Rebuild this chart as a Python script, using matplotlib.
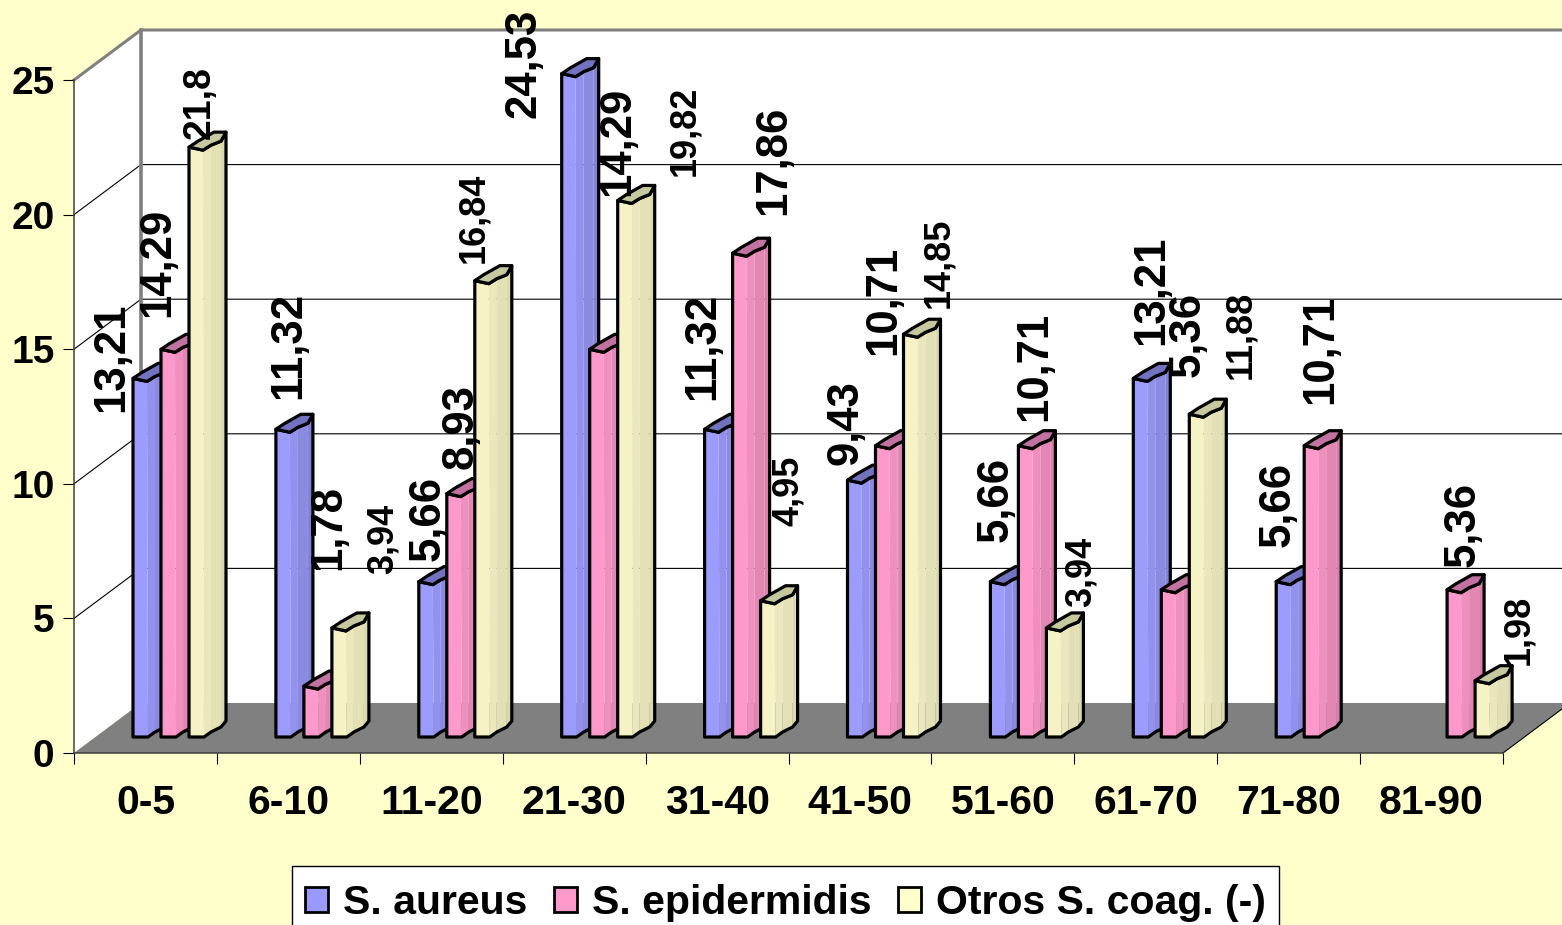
import matplotlib
matplotlib.use("Agg")
import matplotlib.pyplot as plt
from matplotlib.patches import Polygon, Patch, Rectangle

categories = ["0-5", "6-10", "11-20", "21-30", "31-40", "41-50", "51-60", "61-70", "71-80", "81-90"]
series_names = ["S. aureus", "S. epidermidis", "Otros S. coag. (-)"]
aureus = [13.21, 11.32, 5.66, 24.53, 11.32, 9.43, 5.66, 13.21, 5.66, None]
epidermidis = [14.29, 1.78, 8.93, 14.29, 17.86, 10.71, 10.71, 5.36, 10.71, 5.36]
otros = [21.8, 3.94, 16.84, 19.82, 4.95, 14.85, 3.94, 11.88, None, 1.98]
y_ticks = [0, 5, 10, 15, 20, 25]

# label offsets (pixels) from each bar's top-left corner
aureus_off = [(-21, 24), (13, 87), (9, 66), (-38, 13), (-2, 86), (-2, 61), (6, 85), (18, 91), (2, 80), None]
epid_off = [(-3, 90), (25, 162), (14, 70), (28, 211), (41, 96), (8, 148), (16, 82), (27, 258), (17, 99), (16, 68)]
otros_off = [(11, 48), (51, 92), (-1, 66), (67, 73), (28, 113), (35, 74), (35, 59), (51, 82), None, (44, 54)]

W, H = 1562, 925
BG = "#FFFFCC"
LEFT, RIGHT, TOP, BOTTOM = 74, 1503, 80, 753
DX, DY = 67, 50          # depth of the chart box, pixels
BAR_DX, BAR_DY = 59, 16  # front of bars relative to the origin
BAR_STEP = 28

facet_colors = [
    ["#9C9CFF", "#9292EE", "#8A8AE0", "#8282D6"],
    ["#FF99CC", "#EE8FBE", "#E286B4", "#D87FAA"],
    ["#F5F2C6", "#EAE7BC", "#E2E0B4", "#DADAAE"],
]
cap_colors = ["#7272C0", "#C272A0", "#C8C8A0"]
legend_colors = ["#9999FF", "#FF99CC", "#FFFFCC"]

plt.rcParams["font.family"] = ["Liberation Sans", "DejaVu Sans"]
fig = plt.figure(figsize=(W / 100, H / 100), dpi=100, facecolor=BG)
ax = fig.add_axes([LEFT / W, 1 - BOTTOM / H, (RIGHT - LEFT) / W, (BOTTOM - TOP) / H])
ax.set_xlim(0, len(categories))
ax.set_ylim(0, 25)
ax.patch.set_visible(False)
ppx = (RIGHT - LEFT) / len(categories)
ppy = (BOTTOM - TOP) / 25.0
ux, uy = 1 / ppx, 1 / ppy
n = len(categories)
ddx, ddy = DX * ux, DY * uy

# walls
ax.add_patch(Polygon([(ddx, ddy), (n + ddx, ddy), (n + ddx, 25 + ddy), (ddx, 25 + ddy)], fc="white", ec="none", clip_on=False, zorder=0))
ax.add_patch(Polygon([(0, 0), (ddx, ddy), (ddx, 25 + ddy), (0, 25)], fc="white", ec="none", clip_on=False, zorder=0))
ax.add_patch(Polygon([(0, 0), (n, 0), (n + ddx, ddy), (ddx, ddy)], fc="#808080", ec="none", clip_on=False, zorder=1))

for t in y_ticks[1:-1]:
    ax.plot([0, ddx, n + ddx], [t, t + ddy, t + ddy], color="black", lw=0.8, clip_on=False, zorder=1)
ax.plot([0, ddx, n + ddx], [25, 25 + ddy, 25 + ddy], color="#808080", lw=2.2, clip_on=False, zorder=1)
ax.plot([ddx, ddx], [ddy, 25 + ddy], color="#808080", lw=2.6, clip_on=False, zorder=1)
ax.plot([n, n + ddx], [0, ddy], color="black", lw=0.8, clip_on=False, zorder=1)

# axis
for s in ["top", "right"]:
    ax.spines[s].set_visible(False)
for s in ["left", "bottom"]:
    ax.spines[s].set_color("#404040")
    ax.spines[s].set_linewidth(1.1)
    ax.spines[s].set_zorder(2)
ax.set_yticks(y_ticks)
ax.set_yticklabels([str(t) for t in y_ticks], fontsize=28, fontweight="bold")
ax.tick_params(axis="y", length=8, width=0.8, pad=6)
ax.set_xticks(range(n + 1))
ax.set_xticklabels([])
ax.set_xticks([i + 0.5 for i in range(n)], minor=True)
ax.set_xticklabels(categories, minor=True, fontsize=29.5, fontweight="bold")
ax.tick_params(axis="x", which="major", length=8, width=0.8)
ax.tick_params(axis="x", which="minor", length=0, pad=22.5)

# bar cross-section, pixels
profile = [(0, 0), (15, 0), (22, -5), (32, -10), (37, -16)]
back_cap = [(25, -18), (9, -9)]
cap_front = [(0, -3), (14, 0), (22, -5), (32, -9), (37, -18)]


def draw_bar(g, s, v, z):
    x0 = g + (BAR_DX + s * BAR_STEP) * ux
    y0 = BAR_DY * uy
    def P(off, h=0.0):
        return (x0 + off[0] * ux, y0 + h - off[1] * uy)
    for i in range(4):
        poly = [P(profile[i]), P(profile[i + 1]), P(cap_front[i + 1], v), P(cap_front[i], v)]
        ax.add_patch(Polygon(poly, fc=facet_colors[s][i], ec="none", clip_on=False, zorder=z))
    outline = [P(p) for p in profile] + [P(p, v) for p in reversed(cap_front)]
    ax.add_patch(Polygon(outline, fc="none", ec="black", lw=2.3, joinstyle="round", clip_on=False, zorder=z + 0.1))
    cap = [P(p, v) for p in cap_front] + [P(p, v) for p in back_cap]
    ax.add_patch(Polygon(cap, fc=cap_colors[s], ec="black", lw=2.3, joinstyle="round", clip_on=False, zorder=z + 0.2))
    return x0, y0 + v


all_values = [aureus, epidermidis, otros]
all_offsets = [aureus_off, epid_off, otros_off]
label_sizes = [31.5, 31.5, 26]
for g in range(n):
    for s in range(3):
        v = all_values[s][g]
        if v is None:
            continue
        ax_x, ax_y = draw_bar(g, s, v, 3 + s)
        ax.annotate(str(v).replace(".", ","), xy=(ax_x, ax_y), xytext=all_offsets[s][g],
                    textcoords="offset pixels", rotation=90, ha="center", va="center",
                    fontsize=27 if v == 21.8 else label_sizes[s], fontweight="bold", zorder=10,
                    annotation_clip=False)

# legend frame runs past the lower edge of the figure, as in the source
fig.add_artist(Rectangle((292 / W, 1 - 935 / H), (1279 - 292) / W, (935 - 866) / H, transform=fig.transFigure,
                         fc="white", ec="black", lw=1.0, zorder=5))
handles = [Patch(fc=c, ec="black", lw=2.0) for c in legend_colors]
leg = fig.legend(handles, series_names, loc="upper left", bbox_to_anchor=(292 / W, 1 - 871 / H),
                 ncol=3, frameon=False, handlelength=0.56, handleheight=0.56, handletextpad=0.36,
                 columnspacing=0.66, borderpad=0.32, borderaxespad=0,
                 prop={"size": 29.5, "weight": "bold"})
leg.set_zorder(6)
fig.savefig("out.png", dpi=100, facecolor=BG)
